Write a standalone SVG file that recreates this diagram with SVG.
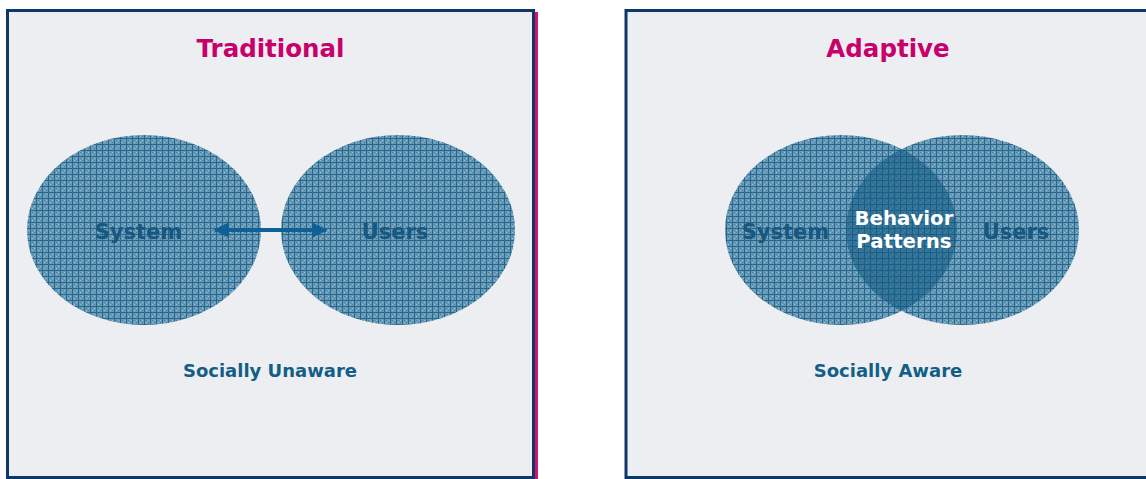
<svg xmlns="http://www.w3.org/2000/svg" width="1146" height="479" viewBox="0 0 1146 479">
<style>
.panel{fill:#edeef2;stroke:#0f3768;stroke-width:3}
.title{font-family:"DejaVu Sans",Verdana,sans-serif;font-weight:bold;font-size:24.5px;fill:#c8006a;text-anchor:middle}
.lbl{font-family:"DejaVu Sans",Verdana,sans-serif;font-weight:bold;font-size:21px;fill:#175780;text-anchor:middle}
.cap{font-family:"DejaVu Sans",Verdana,sans-serif;font-weight:bold;font-size:18px;fill:#135e86;text-anchor:middle}
.bp{font-family:"DejaVu Sans",Verdana,sans-serif;font-weight:bold;font-size:19.8px;fill:#ffffff;text-anchor:middle}
.ell{fill:url(#grid)}
</style>
<defs>
<pattern id="grid" width="6" height="6" patternUnits="userSpaceOnUse">
<rect width="6" height="6" fill="#6a9ab5"/>
<rect x="2" y="2" width="1" height="1" fill="#41809f"/>
<rect x="4" y="4" width="1" height="1" fill="#41809f"/>
<rect x="4" y="2" width="1" height="1" fill="#9bbacc"/>
<rect x="2" y="4" width="1" height="1" fill="#9bbacc"/>
<rect x="0" y="0" width="6" height="1" fill="#22688f"/>
<rect x="0" y="0" width="1" height="6" fill="#22688f"/>
</pattern>
<clipPath id="lensclip"><ellipse cx="841" cy="230" rx="116" ry="95"/></clipPath>
<marker id="ah" viewBox="0 0 10 10" refX="9" refY="5" markerWidth="4" markerHeight="4" orient="auto-start-reverse" markerUnits="strokeWidth">
<path d="M0,0 L10,5 L0,10 z" fill="#0f6195"/>
</marker>
</defs>
<rect x="535" y="12" width="3" height="470" fill="#d4136e"/>
<g id="panel-traditional">
<rect class="panel" x="7.5" y="10.5" width="526" height="467"/>
<text class="title" x="270.5" y="57">Traditional</text>
</g>
<g id="panel-adaptive">
<rect class="panel" x="626" y="10.5" width="530" height="467"/>
<text class="title" x="888" y="57">Adaptive</text>
</g>
<g id="node-system-left">
<ellipse class="ell" cx="144" cy="230" rx="117" ry="95"/>
<text class="lbl" x="138.5" y="239">System</text>
</g>
<g id="node-users-left">
<ellipse class="ell" cx="398" cy="230" rx="117" ry="95"/>
<text class="lbl" x="395" y="239">Users</text>
</g>
<g id="connectors">
<line x1="215" y1="230" x2="326" y2="230" stroke="#0f6195" stroke-width="4" marker-start="url(#ah)" marker-end="url(#ah)"/>
</g>
<text class="cap" x="270" y="377">Socially Unaware</text>
<g id="node-system-right">
<ellipse class="ell" cx="841" cy="230" rx="116" ry="95"/>
</g>
<g id="node-users-right">
<ellipse class="ell" cx="962.5" cy="230" rx="116.5" ry="95"/>
</g>
<g id="node-behavior">
<ellipse cx="962.5" cy="230" rx="116.5" ry="95" fill="#135a84" opacity="0.6" clip-path="url(#lensclip)"/>
<text class="lbl" x="785.5" y="239">System</text>
<text class="lbl" x="1016" y="239">Users</text>
<text class="bp" x="904" y="225">Behavior</text>
<text class="bp" x="904" y="248">Patterns</text>
</g>
<text class="cap" x="888" y="377">Socially Aware</text>
</svg>
